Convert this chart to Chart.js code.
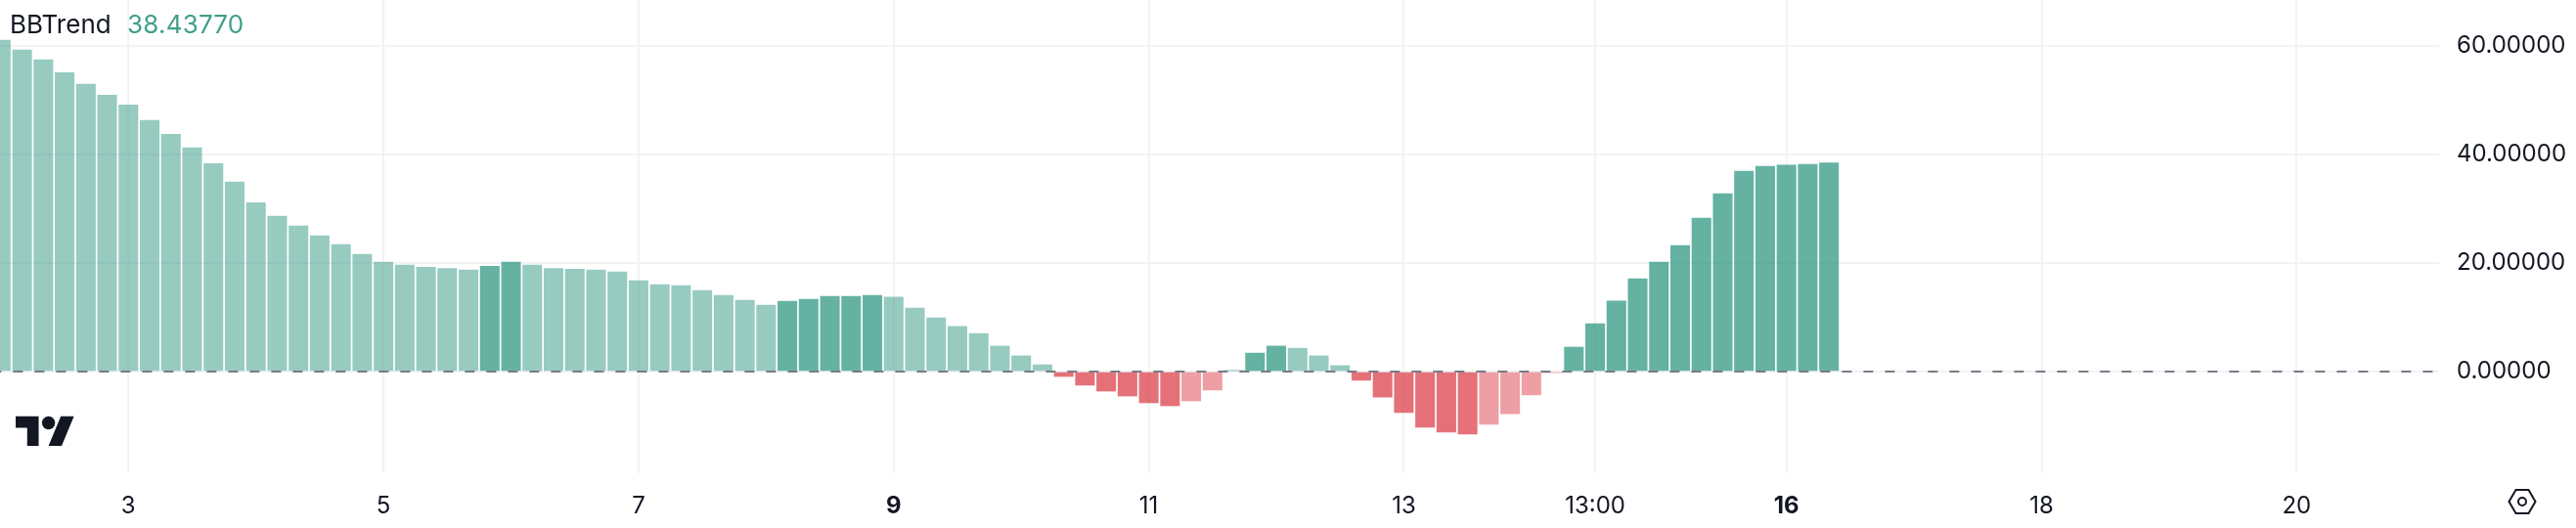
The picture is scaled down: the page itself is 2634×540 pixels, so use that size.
<!DOCTYPE html>
<html><head><meta charset="utf-8">
<style>
html,body{margin:0;padding:0;background:#fff;width:2634px;height:540px;overflow:hidden}
#wrap{position:relative;width:2634px;height:540px}
canvas{position:absolute;left:0;top:0}
.lg{position:absolute;top:9px;font:26px Inter,sans-serif;line-height:32px;white-space:nowrap}
svg{position:absolute}
</style>
<script src="https://cdn.jsdelivr.net/npm/chart.js@4"></script>
</head><body><div id="wrap">
<canvas id="c" width="2634" height="540"></canvas>
<div class="lg" style="left:10px;color:#131722">BBTrend</div>
<div class="lg" style="left:130px;color:#42A08A;letter-spacing:.2px">38.43770</div>
<svg style="left:16px;top:419px" width="60" height="47" viewBox="0 0 35.7 28"><path fill="#131722" d="M14 22H7V11H0V4h14v18zM28 22h-8l7.5-18h8L28 22z"/><circle fill="#131722" cx="20" cy="8" r="4"/></svg>
<svg style="left:2564px;top:499px" width="30" height="28" viewBox="0 0 30 28"><path fill="none" stroke="#131722" stroke-width="2" d="M8.5 2h13L28.500 14l-7 12h-13l-7-12z"/><circle fill="none" stroke="#131722" stroke-width="2" cx="15" cy="14" r="4"/></svg>
</div>
<script>
// BBTrend histogram values, one per 4-hour bar
const values = [61.0,59.2,57.4,55.05,52.9,50.9,49.1,46.25,43.7,41.2,38.3,34.9,31.1,28.6,26.8,25.0,23.4,21.6,20.15,19.6,19.2,19.0,18.7,19.4,20.15,19.6,19.0,18.85,18.7,18.35,16.75,16.0,15.85,14.95,14.05,13.15,12.25,12.95,13.3,13.85,13.85,14.05,13.7,11.7,9.9,8.3,7.0,4.7,2.9,1.25,-0.9,-2.5,-3.6,-4.5,-5.75,-6.3,-5.4,-3.4,0.2,3.4,4.7,4.3,2.9,1.1,-1.6,-4.7,-7.55,-10.25,-11.15,-11.5,-9.7,-7.75,-4.3,-0.2,4.5,8.8,13.0,17.1,20.15,23.2,28.25,32.75,36.9,37.8,38.0,38.15,38.4377];
// 1 = strong shade (growing), 0 = faded shade
const strong = [0,0,0,0,0,0,0,0,0,0,0,0,0,0,0,0,0,0,0,0,0,0,0,1,1,0,0,0,0,0,0,0,0,0,0,0,0,1,1,1,1,1,0,0,0,0,0,0,0,0,1,1,1,1,1,1,0,0,1,1,1,0,0,0,1,1,1,1,1,1,0,0,0,0,1,1,1,1,1,1,1,1,1,1,1,1,1];
const tickIndex = [6,18,30,42,54,66,75,84,96,108];
const tickLabels = ['3','5','7','9','11','13','13:00','16','18','20'];
const boldLabels = ['9','16'];
const yTicks = [0,20,40,60];
const zeroLine = [-0.04,114.7];

const colors = {up:['rgba(35,145,122,.47)','rgba(35,145,122,.7)'],down:['rgba(218,52,63,.47)','rgba(218,52,63,.7)']};
const font = '"Inter",sans-serif';
const noPad = a=>{a.paddingLeft=a.paddingRight=a.paddingTop=a.paddingBottom=0};
new Chart(document.getElementById('c'),{
  data:{datasets:[
    {type:'line',order:0,data:zeroLine.map(x=>({x,y:0})),borderColor:'#787B86',borderWidth:2,borderDash:[10,12],borderDashOffset:8.6,pointRadius:0},
    {type:'bar',order:1,data:values.map((y,x)=>({x,y})),barThickness:19.4,borderWidth:0,
     backgroundColor:values.map((v,i)=>colors[v>=0?'up':'down'][strong[i]])}
  ]},
  options:{responsive:false,animation:false,maintainAspectRatio:false,
    layout:{padding:0},
    plugins:{legend:{display:false},tooltip:{enabled:false},title:{display:false}},
    scales:{
      x:{type:'linear',min:zeroLine[0],max:zeroLine[1],offset:false,
        afterBuildTicks:a=>{a.ticks=tickIndex.map(v=>({value:v}))},
        afterFit:a=>{a.height=56;noPad(a)},
        grid:{offset:false,color:'#F2F3F5',lineWidth:2,drawTicks:false},border:{display:false},
        ticks:{autoSkip:false,maxRotation:0,padding:19,color:'#131722',
          callback:v=>tickLabels[tickIndex.indexOf(v)],
          font:c=>({family:font,size:24,weight:c.tick&&boldLabels.includes(tickLabels[tickIndex.indexOf(c.tick.value)])?'700':'400'})}},
      y:{position:'right',min:-18.72,max:68.41,
        afterBuildTicks:a=>{a.ticks=yTicks.map(v=>({value:v}))},
        afterFit:a=>{a.width=140;noPad(a)},
        grid:{color:'#F2F3F5',lineWidth:2,drawTicks:false},border:{display:false},
        ticks:{padding:18,color:'#131722',font:{family:font,size:24},callback:v=>v.toFixed(5)}}
    }
  }
});
</script></body></html>
